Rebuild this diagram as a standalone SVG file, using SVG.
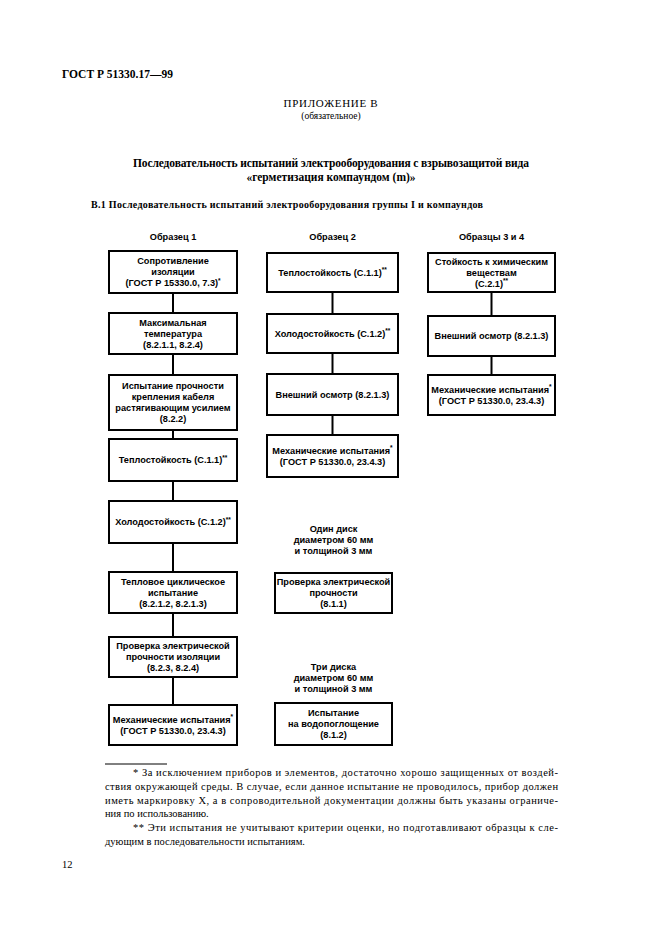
<svg xmlns="http://www.w3.org/2000/svg" width="661" height="936" viewBox="0 0 661 936">
<style>
.bg{fill:#ffffff}
.box{fill:#ffffff;stroke:#000000;stroke-width:2}
.con{stroke:#000000;stroke-width:2;fill:none}
.t{font-family:"Liberation Sans",Arial,sans-serif;font-size:9.2px;font-weight:bold;fill:#000;text-anchor:middle}
.sup{font-size:6.5px}
.serif{font-family:"Liberation Serif","Times New Roman",serif;fill:#000}
.hb{font-weight:bold}
.fn{font-size:10.5px}
</style>
<rect class="bg" x="0" y="0" width="661" height="936"/>

<g id="page-header">
<text class="serif hb" x="62" y="78" font-size="11.5">ГОСТ Р 51330.17—99</text>
<text class="serif" x="331" y="107" font-size="11" letter-spacing="0.7" text-anchor="middle">ПРИЛОЖЕНИЕ В</text>
<text class="serif" x="331" y="119" font-size="9.5" text-anchor="middle">(обязательное)</text>
<text class="serif hb" x="331" y="167" font-size="11.5" text-anchor="middle" textLength="396" lengthAdjust="spacing">Последовательность испытаний электрооборудования с взрывозащитой вида</text>
<text class="serif hb" x="331" y="181" font-size="11.5" text-anchor="middle">«герметизация компаундом (m)»</text>
<text class="serif hb" x="91" y="208" font-size="10" textLength="392" lengthAdjust="spacing">В.1 Последовательность испытаний электрооборудования группы I и компаундов</text>
</g>

<g id="connectors">
<line class="con" x1="173" y1="293" x2="173" y2="313"/>
<line class="con" x1="173" y1="354" x2="173" y2="375"/>
<line class="con" x1="173" y1="430" x2="173" y2="439"/>
<line class="con" x1="173" y1="481" x2="173" y2="501"/>
<line class="con" x1="173" y1="543" x2="173" y2="572"/>
<line class="con" x1="173" y1="613" x2="173" y2="637"/>
<line class="con" x1="173" y1="677" x2="173" y2="705"/>
<line class="con" x1="332.5" y1="292" x2="332.5" y2="314"/>
<line class="con" x1="332.5" y1="353" x2="332.5" y2="374"/>
<line class="con" x1="332.5" y1="415" x2="332.5" y2="435"/>
<line class="con" x1="491.5" y1="292" x2="491.5" y2="316"/>
<line class="con" x1="491.5" y1="356" x2="491.5" y2="375"/>
</g>

<g id="label-col1"><text class="t" x="173" y="240">Образец 1</text></g>
<g id="label-col2"><text class="t" x="332.5" y="240">Образец 2</text></g>
<g id="label-col3"><text class="t" x="491.5" y="240">Образцы 3 и 4</text></g>

<g id="c1-n1">
<rect class="box" x="109" y="251" width="128" height="42"/>
<text class="t" x="173" y="264.3">Сопротивление</text>
<text class="t" x="173" y="275.3">изоляции</text>
<text class="t" x="173" y="286.3">(ГОСТ Р 15330.0, 7.3)<tspan class="sup" dy="-3.5">*</tspan></text>
</g>
<g id="c1-n2">
<rect class="box" x="109" y="313" width="128" height="41"/>
<text class="t" x="173" y="325.8">Максимальная</text>
<text class="t" x="173" y="336.8">температура</text>
<text class="t" x="173" y="347.8">(8.2.1.1, 8.2.4)</text>
</g>
<g id="c1-n3">
<rect class="box" x="109" y="375" width="128" height="55"/>
<text class="t" x="173" y="389.3">Испытание прочности</text>
<text class="t" x="173" y="400.3">крепления кабеля</text>
<text class="t" x="173" y="411.3">растягивающим усилием</text>
<text class="t" x="173" y="422.3">(8.2.2)</text>
</g>
<g id="c1-n4">
<rect class="box" x="109" y="439" width="128" height="42"/>
<text class="t" x="173" y="463.3">Теплостойкость (С.1.1)<tspan class="sup" dy="-3.5">**</tspan></text>
</g>
<g id="c1-n5">
<rect class="box" x="109" y="501" width="128" height="42"/>
<text class="t" x="173" y="525.3">Холодостойкость (С.1.2)<tspan class="sup" dy="-3.5">**</tspan></text>
</g>
<g id="c1-n6">
<rect class="box" x="109" y="572" width="128" height="41"/>
<text class="t" x="173" y="584.8">Тепловое циклическое</text>
<text class="t" x="173" y="595.8">испытание</text>
<text class="t" x="173" y="606.8">(8.2.1.2, 8.2.1.3)</text>
</g>
<g id="c1-n7">
<rect class="box" x="109" y="637" width="128" height="40"/>
<text class="t" x="173" y="649.3">Проверка электрической</text>
<text class="t" x="173" y="660.3">прочности изоляции</text>
<text class="t" x="173" y="671.3">(8.2.3, 8.2.4)</text>
</g>
<g id="c1-n8">
<rect class="box" x="109" y="705" width="128" height="40"/>
<text class="t" x="173" y="722.8">Механические испытания<tspan class="sup" dy="-3.5">*</tspan></text>
<text class="t" x="173" y="733.8">(ГОСТ Р 51330.0, 23.4.3)</text>
</g>

<g id="c2-n1">
<rect class="box" x="267" y="253" width="131" height="39"/>
<text class="t" x="332.5" y="275.8">Теплостойкость (С.1.1)<tspan class="sup" dy="-3.5">**</tspan></text>
</g>
<g id="c2-n2">
<rect class="box" x="267" y="314" width="131" height="39"/>
<text class="t" x="332.5" y="336.8">Холодостойкость (С.1.2)<tspan class="sup" dy="-3.5">**</tspan></text>
</g>
<g id="c2-n3">
<rect class="box" x="267" y="374" width="131" height="41"/>
<text class="t" x="332.5" y="397.8">Внешний осмотр (8.2.1.3)</text>
</g>
<g id="c2-n4">
<rect class="box" x="267" y="435" width="131" height="42"/>
<text class="t" x="332.5" y="453.8">Механические испытания<tspan class="sup" dy="-3.5">*</tspan></text>
<text class="t" x="332.5" y="464.8">(ГОСТ Р 51330.0, 23.4.3)</text>
</g>

<g id="c2-note1">
<text class="t" x="333.5" y="532">Один диск</text>
<text class="t" x="333.5" y="543">диаметром 60 мм</text>
<text class="t" x="333.5" y="554">и толщиной 3 мм</text>
</g>
<g id="c2-n5">
<rect class="box" x="275" y="573" width="117" height="40"/>
<text class="t" x="333.5" y="585.3">Проверка электрической</text>
<text class="t" x="333.5" y="596.3">прочности</text>
<text class="t" x="333.5" y="607.3">(8.1.1)</text>
</g>
<g id="c2-note2">
<text class="t" x="333.5" y="670">Три диска</text>
<text class="t" x="333.5" y="681">диаметром 60 мм</text>
<text class="t" x="333.5" y="692">и толщиной 3 мм</text>
</g>
<g id="c2-n6">
<rect class="box" x="275" y="703" width="117" height="42"/>
<text class="t" x="333.5" y="716.3">Испытание</text>
<text class="t" x="333.5" y="727.3">на водопоглощение</text>
<text class="t" x="333.5" y="738.3">(8.1.2)</text>
</g>

<g id="c3-n1">
<rect class="box" x="428" y="253" width="127" height="39"/>
<text class="t" x="491.5" y="264.8">Стойкость к химическим</text>
<text class="t" x="491.5" y="275.8">веществам</text>
<text class="t" x="491.5" y="286.8">(С.2.1)<tspan class="sup" dy="-3.5">**</tspan></text>
</g>
<g id="c3-n2">
<rect class="box" x="428" y="316" width="127" height="40"/>
<text class="t" x="491.5" y="339.3">Внешний осмотр (8.2.1.3)</text>
</g>
<g id="c3-n3">
<rect class="box" x="428" y="375" width="127" height="40"/>
<text class="t" x="491.5" y="392.8">Механические испытания<tspan class="sup" dy="-3.5">*</tspan></text>
<text class="t" x="491.5" y="403.8">(ГОСТ Р 51330.0, 23.4.3)</text>
</g>

<g id="footnotes">
<line x1="105" y1="764" x2="167" y2="764" stroke="#000" stroke-width="1"/>
<text class="serif fn" x="133" y="776" textLength="425" lengthAdjust="spacing">* За исключением приборов и элементов, достаточно хорошо защищенных от воздей-</text>
<text class="serif fn" x="105" y="790" textLength="453" lengthAdjust="spacing">ствия окружающей среды. В случае, если данное испытание не проводилось, прибор должен</text>
<text class="serif fn" x="105" y="804" textLength="453" lengthAdjust="spacing">иметь маркировку X, а в сопроводительной документации должны быть указаны ограниче-</text>
<text class="serif fn" x="105" y="817">ния по использованию.</text>
<text class="serif fn" x="133" y="831" textLength="425" lengthAdjust="spacing">** Эти испытания не учитывают критерии оценки, но подготавливают образцы к сле-</text>
<text class="serif fn" x="105" y="845">дующим в последовательности испытаниям.</text>
<text class="serif fn" x="62" y="868">12</text>
</g>
</svg>
